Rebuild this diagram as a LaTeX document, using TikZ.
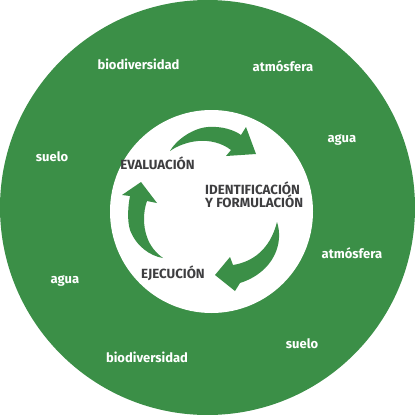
\documentclass[tikz,border=0pt]{standalone}
\usepackage{fontspec}
\setmainfont{Fira Sans}
\usepackage{graphicx}
\definecolor{ringgreen}{HTML}{3B8F47}
\definecolor{labelgray}{HTML}{3E3E40}
\tikzset{
  outerlabel/.style={text=white, font=\bfseries\fontsize{13}{15}\selectfont, inner sep=0pt},
  innerlabel/.style={text=labelgray, font=\bfseries\fontsize{13.3}{14}\selectfont, inner sep=0pt},
  cyclearrow/.style={fill=ringgreen, draw=none}
}
\begin{document}
\begin{tikzpicture}[x=1pt,y=-1pt]
\useasboundingbox (0,0) rectangle (415,415);
\fill[white] (0,0) rectangle (415,415);
\fill[ringgreen] (207.5,207.5) circle[radius=207.5];
\fill[white] (211.5,211.5) circle[radius=101.5];
% outer labels
\node[outerlabel] (bio1) at (138.5,64) {biodiversidad};
\node[outerlabel] (atm1) at (283,66) {atmósfera};
\node[outerlabel] (agua1) at (342,140) {agua};
\node[outerlabel] (suelo1) at (52,157) {suelo};
\node[outerlabel] (atm2) at (352,253) {atmósfera};
\node[outerlabel] (agua2) at (65,281) {agua};
\node[outerlabel] (suelo2) at (302,344) {suelo};
\node[outerlabel] (bio2) at (147,357) {biodiversidad};
% inner labels
\node[innerlabel] (eval) at (157.5,163.5) {EVALUACIÓN};
\node[innerlabel, anchor=west, align=left] (ident) at (205,195) {IDENTIFICACIÓN\\[-1pt]Y FORMULACIÓN};
\node[innerlabel] (ejec) at (173,273) {EJECUCIÓN};
% arrows
\fill[cyclearrow] (170,151) .. controls (176,140) and (193,128) .. (208,127) .. controls (222,126) and (234,130) .. (241,135) -- (246,127) -- (256,154) -- (226,156) -- (231,150) .. controls (222,143) and (210,140) .. (198,141) .. controls (187,142) and (177,146) .. (170,151) -- cycle;
\fill[cyclearrow] (163,258) .. controls (150,256) and (136,246) .. (130,230) .. controls (127,220) and (128,206) .. (130,196) -- (122,195) -- (141,182) -- (157,203) -- (147,201) .. controls (143,212) and (143,226) .. (147,237) .. controls (150,246) and (156,253) .. (163,258) -- cycle;
\fill[cyclearrow] (277,222) .. controls (284,243) and (274,272) .. (240,283) -- (235,291) -- (215,275) -- (230,257) -- (233,265) .. controls (252,262) and (270,250) .. (277,222) -- cycle;
\end{tikzpicture}
\end{document}
